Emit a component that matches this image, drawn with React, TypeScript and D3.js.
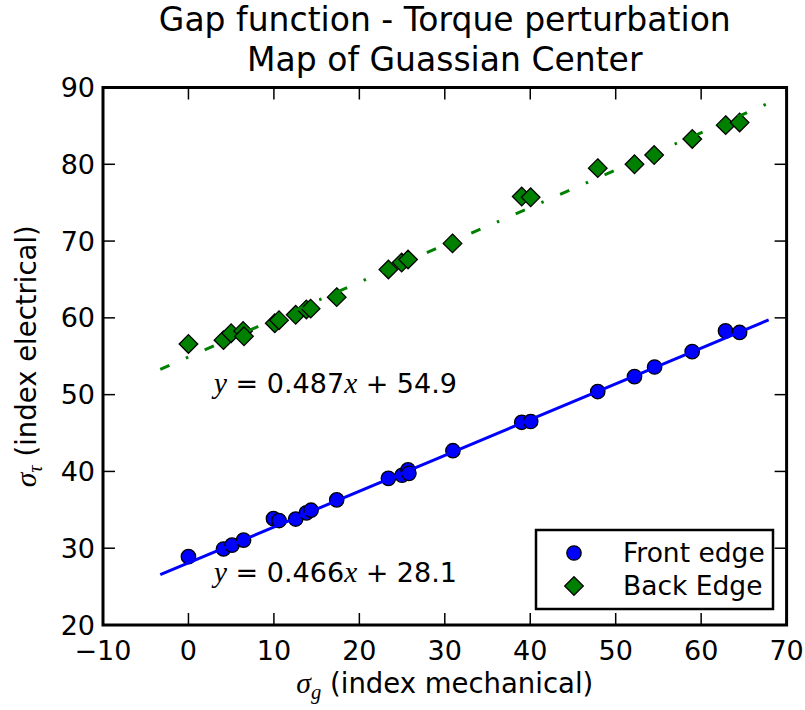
import React from "react";
import * as d3 from "d3";

const xTicks = [-10, 0, 10, 20, 30, 40, 50, 60, 70];
const yTicks = [20, 30, 40, 50, 60, 70, 80, 90];

const frontX = [0.0, 4.1, 5.1, 6.45, 9.95, 10.6, 12.55, 13.8, 14.35, 17.35, 23.4, 25.0, 25.7, 25.8, 30.95, 39.0, 40.05, 47.9, 52.2, 54.55, 58.95, 62.85, 64.5];
const frontY = [28.9, 29.9, 30.4, 31.05, 33.85, 33.6, 33.8, 34.6, 34.95, 36.3, 39.1, 39.5, 40.2, 39.75, 42.7, 46.4, 46.5, 50.4, 52.35, 53.6, 55.6, 58.3, 58.1];

const backX = [0.0, 4.1, 5.0, 6.4, 6.5, 10.1, 10.6, 12.55, 13.8, 14.3, 17.35, 23.4, 24.95, 25.7, 30.9, 39.0, 40.05, 47.9, 52.2, 54.5, 58.96, 62.87, 64.5];
const backY = [56.6, 57.1, 58.0, 58.3, 57.6, 59.3, 59.7, 60.4, 61.1, 61.2, 62.7, 66.3, 67.2, 67.6, 69.7, 75.8, 75.7, 79.5, 80.0, 81.2, 83.3, 85.1, 85.45];

const fitX = [-3.3, 67.9];
const frontFit = { slope: 0.466, intercept: 28.1 };
const backFit = { slope: 0.487, intercept: 54.9 };

const seriesNames = ["Front edge", "Back Edge"];
const titleLines = ["Gap function - Torque perturbation", "Map of Guassian Center"];

const W = 805;
const H = 710;
const SANS = "'DejaVu Sans', sans-serif";
const MATH = "'Liberation Serif', 'DejaVu Serif', serif";

export default function App() {
  const x = d3.scaleLinear().domain([-10, 70]).range([103, 786.6]);
  const y = d3.scaleLinear().domain([20, 90]).range([625, 87.5]);
  const [x0, x1] = x.range();
  const [yb, yt] = y.range();
  const cx = (x0 + x1) / 2;
  const cy = (yb + yt) / 2;

  const fitPath = (fit: { slope: number; intercept: number }) =>
    d3
      .line<number>()
      .x((d) => x(d))
      .y((d) => y(fit.slope * d + fit.intercept))(fitX) || "";

  const diamond = (r: number) => `M0,${-r}L${r},0L0,${r}L${-r},0Z`;

  const tickLen = 12;
  const fsTick = 27;
  const fsLab = 27.5;
  const fsEq = 27;
  const fsLeg = 26.5;

  const equation = (fit: { slope: number; intercept: number }, yv: number) => (
    <text x={x(3)} y={y(yv)} fontFamily={SANS} fontSize={fsEq} fill="#000">
      <tspan fontFamily={MATH} fontStyle="italic" fontSize={fsEq * 1.08}>y</tspan>
      <tspan>{" = " + fit.slope.toFixed(3)}</tspan>
      <tspan fontFamily={MATH} fontStyle="italic" fontSize={fsEq * 1.08}>x</tspan>
      <tspan>{" + " + fit.intercept.toFixed(1)}</tspan>
    </text>
  );

  return (
    <svg
      width={W}
      height={H}
      style={{ position: "absolute", left: 0, top: 0, background: "#fff" }}
      xmlns="http://www.w3.org/2000/svg"
    >
      <rect width={W} height={H} fill="#fff" />
      {/* title */}
      <text x={cx} y={31} textAnchor="middle" fontFamily={SANS} fontSize={33} fill="#000">
        {titleLines[0]}
      </text>
      <text x={cx} y={71} textAnchor="middle" fontFamily={SANS} fontSize={33} fill="#000">
        {titleLines[1]}
      </text>

      {/* markers */}
      {frontX.map((d, i) => (
        <circle key={"f" + i} cx={x(d)} cy={y(frontY[i])} r={7.2} fill="#0000ff" stroke="#000" strokeWidth={1.3} />
      ))}
      {backX.map((d, i) => (
        <path
          key={"b" + i}
          d={diamond(9.3)}
          transform={`translate(${x(d)},${y(backY[i])})`}
          fill="#008000"
          stroke="#000"
          strokeWidth={1.3}
        />
      ))}

      {/* fit lines */}
      <path d={fitPath(frontFit)} fill="none" stroke="#0000ff" strokeWidth={3} />
      <path
        d={fitPath(backFit)}
        fill="none"
        stroke="#008000"
        strokeWidth={3}
        strokeDasharray="10,18,2.5,18"
      />

      {/* equations */}
      {equation(backFit, 50.2)}
      {equation(frontFit, 25.6)}

      {/* axes frame */}
      <rect x={x0} y={yt} width={x1 - x0} height={yb - yt} fill="none" stroke="#000" strokeWidth={3} />

      {/* x ticks */}
      {xTicks.map((t) => (
        <g key={"xt" + t}>
          <line x1={x(t)} x2={x(t)} y1={yb} y2={yb - tickLen} stroke="#000" strokeWidth={1.5} />
          <line x1={x(t)} x2={x(t)} y1={yt} y2={yt + tickLen} stroke="#000" strokeWidth={1.5} />
          <text x={x(t)} y={yb + 35} textAnchor="middle" fontFamily={SANS} fontSize={fsTick} fill="#000">
            {t < 0 ? "\u2212" + Math.abs(t) : String(t)}
          </text>
        </g>
      ))}
      {/* y ticks */}
      {yTicks.map((t) => (
        <g key={"yt" + t}>
          <line x1={x0} x2={x0 + tickLen} y1={y(t)} y2={y(t)} stroke="#000" strokeWidth={1.5} />
          <line x1={x1} x2={x1 - tickLen} y1={y(t)} y2={y(t)} stroke="#000" strokeWidth={1.5} />
          <text x={x0 - 8} y={y(t) + 9.5} textAnchor="end" fontFamily={SANS} fontSize={fsTick} fill="#000">
            {String(t)}
          </text>
        </g>
      ))}

      {/* x label */}
      <text x={cx} y={693} textAnchor="middle" fontFamily={SANS} fontSize={fsLab} fill="#000">
        <tspan fontFamily={MATH} fontStyle="italic" fontSize={fsLab * 1.08}>σ</tspan>
        <tspan fontFamily={MATH} fontStyle="italic" fontSize={fsLab * 0.75} dy={6}>g</tspan>
        <tspan dy={-6}>{" (index mechanical)"}</tspan>
      </text>
      {/* y label */}
      <text
        transform={`translate(36,${cy}) rotate(-90)`}
        textAnchor="middle"
        fontFamily={SANS}
        fontSize={fsLab}
        fill="#000"
      >
        <tspan fontFamily={MATH} fontStyle="italic" fontSize={fsLab * 1.08}>σ</tspan>
        <tspan fontFamily={MATH} fontStyle="italic" fontSize={fsLab * 0.75} dy={6}>τ</tspan>
        <tspan dy={-6}>{" (index electrical)"}</tspan>
      </text>

      {/* legend */}
      <rect x={536} y={530} width={237} height={79} fill="#fff" stroke="#000" strokeWidth={2.5} />
      <circle cx={574} cy={553} r={7.2} fill="#0000ff" stroke="#000" strokeWidth={1.3} />
      <path d={diamond(9.3)} transform="translate(574,586)" fill="#008000" stroke="#000" strokeWidth={1.3} />
      <text x={623} y={562} fontFamily={SANS} fontSize={fsLeg} fill="#000">{seriesNames[0]}</text>
      <text x={623} y={595} fontFamily={SANS} fontSize={fsLeg} fill="#000">{seriesNames[1]}</text>
    </svg>
  );
}
